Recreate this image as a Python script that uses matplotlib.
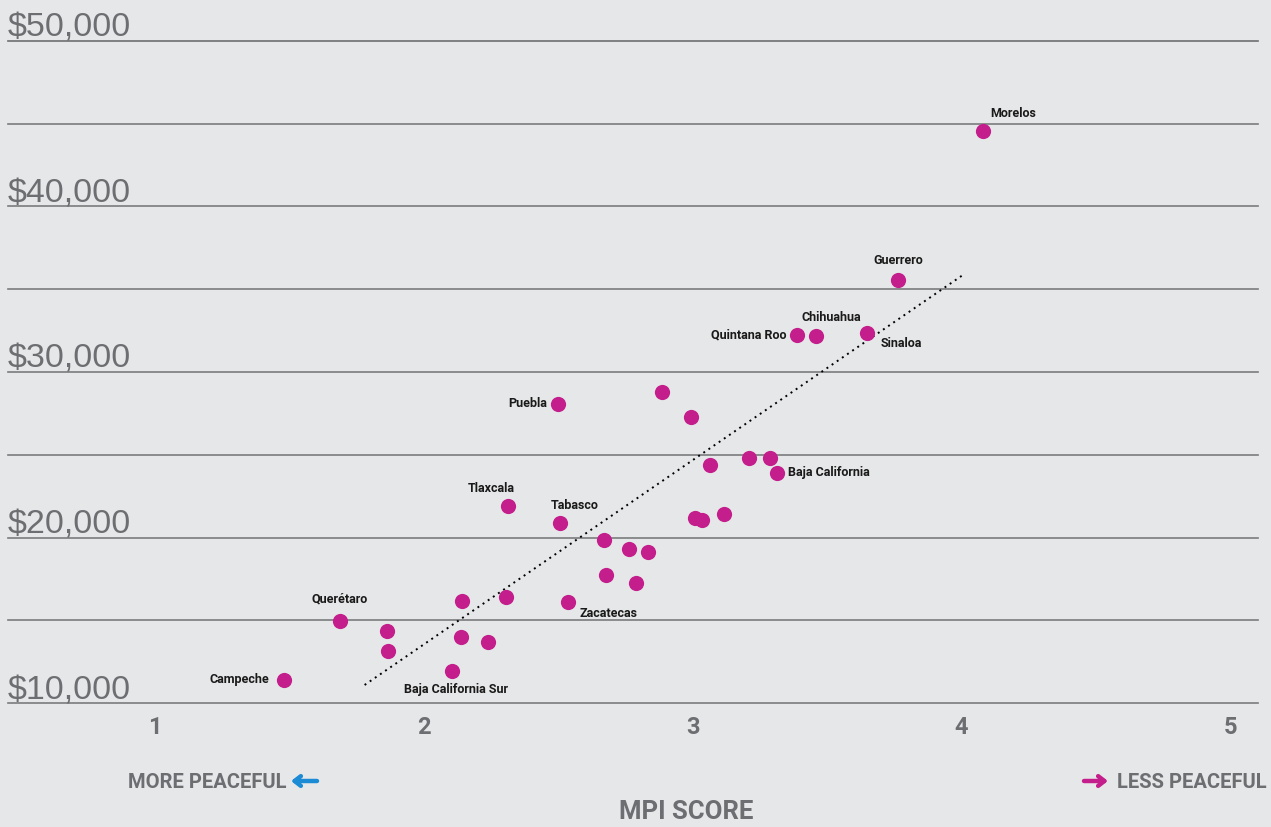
import matplotlib
matplotlib.use("Agg")
import matplotlib.pyplot as plt
from matplotlib import font_manager

# ---- data ----
states = ["Morelos", "Guerrero", "Quintana Roo", "Chihuahua", "Sinaloa", "", "Puebla", "",
          "", "", "", "Baja California", "Tlaxcala", "", "", "", "Tabasco", "", "", "",
          "", "", "", "", "Zacatecas", "Querétaro", "", "", "", "", "Baja California Sur", "Campeche"]
mpi_score = [4.08, 3.765, 3.389, 3.46, 3.649, 2.887, 2.50, 2.994,
             3.21, 3.288, 3.065, 3.314, 2.313, 3.117, 3.009, 3.035, 2.507, 2.671, 2.764, 2.834,
             2.678, 2.79, 2.142, 2.306, 2.537, 1.688, 1.863, 2.139, 2.239, 1.867, 2.105, 1.48]
cost_per_capita = [44560, 35560, 32240, 32180, 32360, 28790, 28070, 27280,
                   24800, 24800, 24380, 23900, 21900, 21420, 21180, 21060, 20880, 19850, 19300, 19120,
                   17730, 17250, 16160, 16400, 16100, 14950, 14350, 13990, 13690, 13140, 11930, 11390]
trend_x = [1.78, 4.006]
trend_y = [11090, 35860]
y_ticks = [10000, 15000, 20000, 25000, 30000, 35000, 40000, 45000, 50000]
y_labels = {10000: "$10,000", 20000: "$20,000", 30000: "$30,000", 40000: "$40,000", 50000: "$50,000"}
x_ticks = [1, 2, 3, 4, 5]

# label offsets in pixels (dx, dy, ha)
label_pos = {
    "Morelos": (7, 18, "left"),
    "Guerrero": (0, 19, "center"),
    "Chihuahua": (15, 18, "center"),
    "Quintana Roo": (-11, 0, "right"),
    "Sinaloa": (14, -11, "left"),
    "Puebla": (-11, 0, "right"),
    "Baja California": (11, 0, "left"),
    "Tlaxcala": (-17, 18, "center"),
    "Tabasco": (15, 17, "center"),
    "Zacatecas": (11, -11, "left"),
    "Querétaro": (0, 22, "center"),
    "Campeche": (-15, 0, "right"),
    "Baja California Sur": (4, -18, "center"),
}

names = {f.name for f in font_manager.fontManager.ttflist}
narrow = "Liberation Sans Narrow" if "Liberation Sans Narrow" in names else "Roboto"

BG = "#e6e7e8"
GRAY = "#6d6e71"
PINK = "#c41e8c"
BLUE = "#1b8bd6"

fig = plt.figure(figsize=(12.71, 8.27), dpi=100, facecolor=BG)
ax = fig.add_axes([8 / 1271, (827 - 703) / 827, 1250 / 1271, (703 - 41) / 827])
ax.set_facecolor(BG)
ax.set_xlim(1 - 147 / 268.75, 1 + 1103 / 268.75)
ax.set_ylim(10000, 50000)

for yt in y_ticks:
    ax.axhline(yt, color="#7a7b7d" if yt != 50000 else GRAY, lw=1.2, zorder=1, clip_on=False)
    if yt in y_labels:
        ax.annotate(y_labels[yt], xy=(0, yt), xycoords=("axes fraction", "data"),
                    xytext=(0, 4), textcoords="offset pixels", ha="left", va="baseline",
                    fontsize=24.5, color=GRAY, family="Liberation Sans")

ax.plot(trend_x, trend_y, color="black", lw=1.4, ls=(0, (1, 2.2)), zorder=2)
ax.scatter(mpi_score, cost_per_capita, s=120, color=PINK, zorder=3, linewidths=0)

for name, x, y in zip(states, mpi_score, cost_per_capita):
    if name:
        dx, dy, ha = label_pos[name]
        ax.annotate(name, xy=(x, y), xytext=(dx, dy), textcoords="offset pixels",
                    ha=ha, va="center", fontsize=9, fontweight="bold", family=narrow,
                    color="#1a1a1a", zorder=4)

for xt in x_ticks:
    ax.annotate(str(xt), xy=(xt, 0), xycoords=("data", "axes fraction"),
                xytext=(0, -25), textcoords="offset pixels", ha="center", va="center",
                fontsize=17, fontweight="bold", color=GRAY, family=narrow)

for s in ax.spines.values():
    s.set_visible(False)
ax.set_xticks([])
ax.set_yticks([])

fig.text(287 / 1271, 1 - 782 / 827, "MORE PEACEFUL", ha="right", va="center",
         fontsize=14.5, fontweight="bold", color=GRAY, family=narrow)
fig.text(1117 / 1271, 1 - 782 / 827, "LESS PEACEFUL", ha="left", va="center",
         fontsize=14.5, fontweight="bold", color=GRAY, family=narrow)
fig.text(686 / 1271, 1 - 812 / 827, "MPI SCORE", ha="center", va="center",
         fontsize=18.5, fontweight="bold", color=GRAY, family=narrow)

arrow_kw = dict(arrowstyle="->,head_length=0.45,head_width=0.35", lw=3.2,
                shrinkA=0, shrinkB=0)
ax.annotate("", xy=(291, 827 - 781), xytext=(317, 827 - 781), xycoords="figure pixels",
            textcoords="figure pixels", arrowprops=dict(color=BLUE, **arrow_kw),
            annotation_clip=False)
ax.annotate("", xy=(1108, 827 - 781), xytext=(1084, 827 - 781), xycoords="figure pixels",
            textcoords="figure pixels", arrowprops=dict(color=PINK, **arrow_kw),
            annotation_clip=False)

fig.savefig("out.png", dpi=100, facecolor=BG)
